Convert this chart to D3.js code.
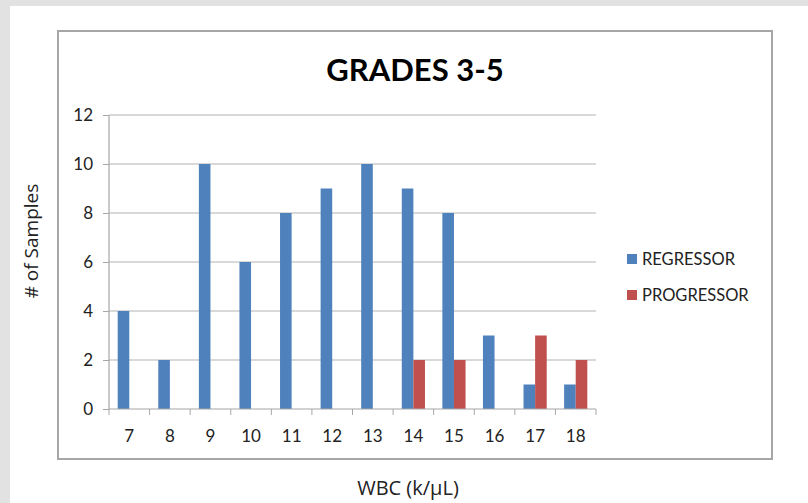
<!DOCTYPE html>
<html>
<head>
<meta charset="utf-8">
<script src="https://d3js.org/d3.v7.min.js"></script>
<style>
  body { margin: 0; background: #e2e2e2; }
  svg { display: block; }
</style>
</head>
<body>
<script>
// WBC bins and sample counts
var categories = ['7', '8', '9', '10', '11', '12', '13', '14', '15', '16', '17', '18'];
var regressor = [4, 2, 10, 6, 8, 9, 10, 9, 8, 3, 1, 1];
var progressor = [0, 0, 0, 0, 0, 0, 0, 2, 2, 0, 3, 2];
var seriesNames = ['REGRESSOR', 'PROGRESSOR'];
var seriesColors = ['#4f81bd', '#c0504d'];
var yTicks = [0, 2, 4, 6, 8, 10, 12];

var width = 808, height = 503;

var svg = d3.select('body').append('svg')
    .attr('width', width)
    .attr('height', height);

// white panel and chart frame
svg.append('rect').attr('x', 10).attr('y', 6).attr('width', width - 10).attr('height', height - 6).attr('fill', '#fff');
svg.append('rect').attr('x', 58).attr('y', 31).attr('width', 714).attr('height', 428)
    .attr('fill', '#fff').attr('stroke', '#a6a6a6').attr('stroke-width', 2);

var plot = {left: 109, right: 596, top: 115, bottom: 409};

var x = d3.scaleBand().domain(categories).range([plot.left, plot.right]);
var y = d3.scaleLinear().domain([0, 12]).range([plot.bottom, plot.top]);

// gridlines
svg.append('g').selectAll('line').data(yTicks.slice(1)).join('line')
    .attr('x1', plot.left).attr('x2', plot.right)
    .attr('y1', d => y(d)).attr('y2', d => y(d))
    .attr('stroke', '#b3b3b3').attr('stroke-width', 1.2);

// bars: excel style, gap width 150%
var barW = x.bandwidth() / 3.5;
var pad = barW * 0.75;
var series = [regressor, progressor];
series.forEach(function(vals, s) {
    svg.append('g').selectAll('rect').data(vals).join('rect')
        .attr('x', (d, i) => x(categories[i]) + pad + s * barW)
        .attr('y', d => y(d))
        .attr('width', barW)
        .attr('height', d => y(0) - y(d))
        .attr('fill', seriesColors[s]);
});

// y axis
var yAxis = svg.append('g').attr('transform', 'translate(' + plot.left + ',0)')
    .call(d3.axisLeft(y).tickValues(yTicks).tickSize(6).tickPadding(10));
yAxis.select('.domain').attr('stroke', '#a6a6a6').attr('stroke-width', 1.2).attr('d', 'M0,' + plot.top + 'V' + plot.bottom);
yAxis.selectAll('.tick line').attr('stroke', '#a6a6a6');
yAxis.selectAll('text').attr('font-family', 'Lato, sans-serif').attr('font-size', 17).attr('fill', '#222');

// x axis
var xAxis = svg.append('g').attr('transform', 'translate(0,' + plot.bottom + ')')
    .call(d3.axisBottom(x).tickSize(0).tickPadding(21));
xAxis.select('.domain').attr('stroke', '#a6a6a6').attr('stroke-width', 1.2).attr('d', 'M' + plot.left + ',0H' + plot.right);
xAxis.selectAll('text').attr('font-family', 'Lato, sans-serif').attr('font-size', 17).attr('fill', '#222');
xAxis.selectAll('.bnd').data(categories.concat(['end'])).join('line')
    .attr('x1', (d, i) => plot.left + i * x.step()).attr('x2', (d, i) => plot.left + i * x.step())
    .attr('y1', 0).attr('y2', 6).attr('stroke', '#a6a6a6');

// title
svg.append('text').attr('x', 415).attr('y', 81).attr('text-anchor', 'middle')
    .attr('font-family', 'Lato, sans-serif').attr('font-weight', 'bold').attr('font-size', 31)
    .attr('fill', '#000').text('GRADES 3-5');

// axis titles
svg.append('text').attr('transform', 'translate(38,241) rotate(-90)').attr('text-anchor', 'middle')
    .attr('font-family', '"Open Sans", sans-serif').attr('font-size', 19).attr('fill', '#222')
    .text('# of Samples');
svg.append('text').attr('x', 408).attr('y', 495).attr('text-anchor', 'middle')
    .attr('font-family', '"Open Sans", sans-serif').attr('font-size', 20).attr('fill', '#222')
    .text('WBC (k/\u03bcL)');

// legend
var legend = svg.append('g').selectAll('g').data(seriesNames).join('g')
    .attr('transform', (d, i) => 'translate(627,' + (254 + i * 36) + ')');
legend.append('rect').attr('width', 10).attr('height', 10).attr('fill', (d, i) => seriesColors[i]);
legend.append('text').attr('x', 15).attr('y', 11)
    .attr('font-family', 'Lato, sans-serif').attr('font-size', 16.5).attr('fill', '#222')
    .text(d => d);
</script>
</body>
</html>
